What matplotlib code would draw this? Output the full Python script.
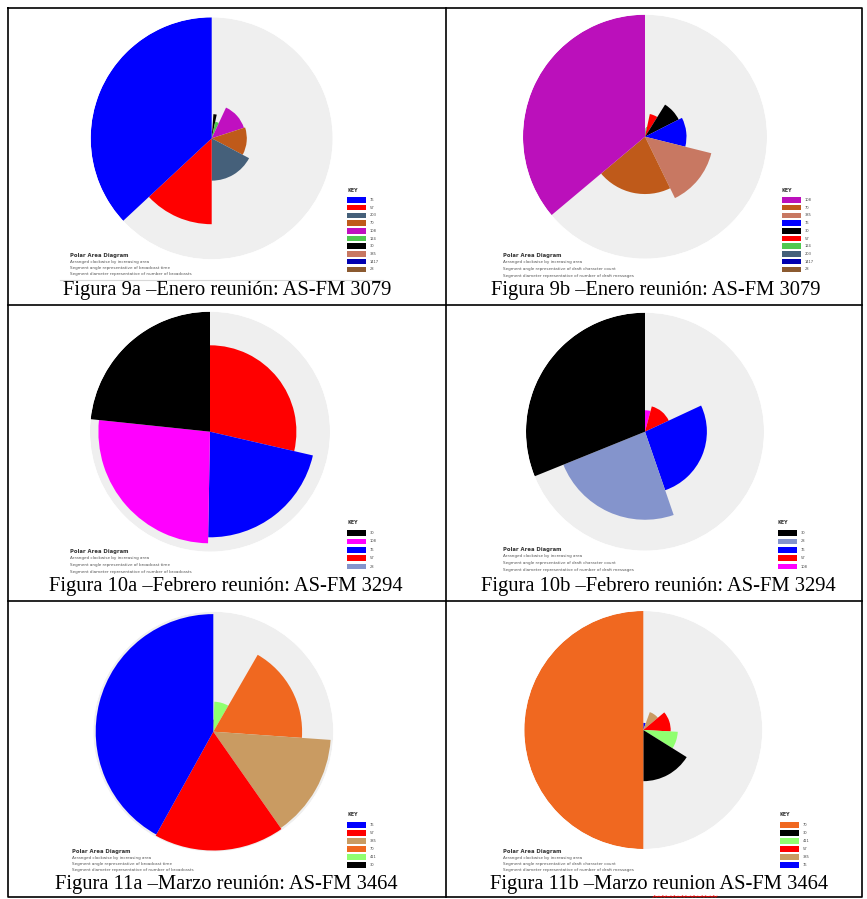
import numpy as np
import matplotlib
matplotlib.use("Agg")
import matplotlib.pyplot as plt
from matplotlib.patches import Rectangle

# ---------------- DATA (legend order, largest first) ----------------
fig9a_colors = ["#0000FF", "#FF0000", "#45607A", "#BF5A1A", "#C010C0",
                "#50C850", "#000000", "#C87862", "#0000B0", "#8B5A30"]
fig9a_labels = ["76", "57", "203", "70", "108", "124", "30", "385", "1417", "28"]
fig9a_angles = [133, 47, 62, 46, 47, 13, 8, 1.5, 1.5, 1]
fig9a_radii = [1.0, 0.71, 0.35, 0.29, 0.28, 0.14, 0.20, 0.08, 0.06, 0.05]

fig9b_colors = ["#BB10BB", "#BF5A1A", "#C87862", "#0000FF", "#000000",
                "#FF0000", "#50C850", "#45607A", "#0000B0", "#8B5A30"]
fig9b_labels = ["108", "70", "385", "76", "30", "57", "124", "203", "1417", "28"]
fig9b_angles = [130, 76, 50, 41, 31, 20, 5, 3, 2.5, 1.5]
fig9b_radii = [1.0, 0.47, 0.56, 0.34, 0.31, 0.19, 0.08, 0.07, 0.05, 0.04]

fig10a_colors = ["#000000", "#FF00FF", "#0000FF", "#FF0000", "#8494CC"]
fig10a_labels = ["30", "108", "76", "57", "28"]
fig10a_angles = [84, 95, 78, 103, 0]
fig10a_radii = [1.0, 0.93, 0.88, 0.72, 0.0]

fig10b_colors = ["#000000", "#8494CC", "#0000FF", "#FF0000", "#FF00FF"]
fig10b_labels = ["30", "28", "76", "57", "108"]
fig10b_angles = [112, 87, 96, 50, 15]
fig10b_radii = [1.0, 0.74, 0.52, 0.22, 0.18]

fig11a_colors = ["#0000FF", "#FF0000", "#C99B62", "#F06820", "#90FF70", "#000000"]
fig11a_labels = ["76", "57", "385", "70", "411", "30"]
fig11a_angles = [151, 64, 51, 64, 28, 2]
fig11a_radii = [0.98, 0.99, 0.98, 0.74, 0.25, 0.10]

fig11b_colors = ["#F06820", "#000000", "#90FF70", "#FF0000", "#C99B62", "#0000FF"]
fig11b_labels = ["70", "30", "411", "57", "385", "76"]
fig11b_angles = [180, 58, 29, 43, 30, 20]
fig11b_radii = [1.0, 0.43, 0.29, 0.23, 0.16, 0.06]

captions = ["Figura 9a \u2013Enero reunión: AS-FM 3079",
            "Figura 9b \u2013Enero reunión: AS-FM 3079",
            "Figura 10a \u2013Febrero reunión: AS-FM 3294",
            "Figura 10b \u2013Febrero reunión: AS-FM 3294",
            "Figura 11a \u2013Marzo reunión: AS-FM 3464",
            "Figura 11b \u2013Marzo reunion AS-FM 3464"]

desc_a = ["Polar Area Diagram",
          "Arranged clockwise by increasing area",
          "Segment angle representative of broadcast time",
          "Segment diameter representative of number of broadcasts"]
desc_b = ["Polar Area Diagram",
          "Arranged clockwise by increasing area",
          "Segment angle representative of draft character count",
          "Segment diameter representative of number of draft messages"]

# ---------------- LAYOUT ----------------
W, H = 867, 899
BG = "#EFEFEF"

panels = [
    dict(c=fig9a_colors, l=fig9a_labels, a=fig9a_angles, r=fig9a_radii, desc=desc_a,
         cx=211.7, cy=138.3, R=121, kx=347, ky=190, k0=200, ks=7.7, dx=70, dy=255, cap=(227, 291)),
    dict(c=fig9b_colors, l=fig9b_labels, a=fig9b_angles, r=fig9b_radii, desc=desc_b,
         cx=645, cy=136.7, R=122, kx=782, ky=190, k0=200, ks=7.7, dx=503, dy=256, cap=(656, 291)),
    dict(c=fig10a_colors, l=fig10a_labels, a=fig10a_angles, r=fig10a_radii, desc=desc_a,
         cx=210, cy=431.7, R=120, kx=347, ky=523, k0=533, ks=8.4, dx=70, dy=552, cap=(226, 587)),
    dict(c=fig10b_colors, l=fig10b_labels, a=fig10b_angles, r=fig10b_radii, desc=desc_b,
         cx=645, cy=431.7, R=119, kx=778, ky=523, k0=533, ks=8.4, dx=503, dy=550, cap=(658, 587)),
    dict(c=fig11a_colors, l=fig11a_labels, a=fig11a_angles, r=fig11a_radii, desc=desc_a,
         cx=213.3, cy=731.7, R=120, kx=347, ky=815, k0=825, ks=8.0, dx=72, dy=851, cap=(226, 884)),
    dict(c=fig11b_colors, l=fig11b_labels, a=fig11b_angles, r=fig11b_radii, desc=desc_b,
         cx=643.3, cy=730, R=119, kx=780, ky=815, k0=825, ks=8.0, dx=503, dy=851, cap=(659, 884)),
]

fig = plt.figure(figsize=(W / 100, H / 100), dpi=100)
fig.patch.set_facecolor("white")

ov = fig.add_axes([0, 0, 1, 1])
ov.set_xlim(0, W)
ov.set_ylim(H, 0)
ov.set_axis_off()

# table lines
lw = 1.2
ov.plot([8, 862, 862, 8, 8], [8, 8, 897, 897, 8], color="black", lw=lw)
ov.plot([446, 446], [8, 897], color="black", lw=lw)
ov.plot([8, 862], [305, 305], color="black", lw=lw)
ov.plot([8, 862], [601, 601], color="black", lw=lw)
ov.plot([60, 383], [280, 280], color="#D8D8D8", lw=0.8)

for i, p in enumerate(panels):
    # caption
    ov.text(p["cap"][0], p["cap"][1], captions[i], ha="center", va="center",
            fontsize=14.8, family="Liberation Serif", color="black")
    # description block
    ov.text(p["dx"], p["dy"], p["desc"][0], fontsize=3.8, fontweight="bold",
            ha="left", va="center", color="#333333")
    for j, line in enumerate(p["desc"][1:]):
        ov.text(p["dx"], p["dy"] + 6.5 * (j + 1), line, fontsize=3.0,
                ha="left", va="center", color="#555555")
    # legend
    ov.text(p["kx"], p["ky"], "KEY", fontsize=3.5, fontweight="bold",
            ha="left", va="center", color="#333333")
    for j, (col, lab) in enumerate(zip(p["c"], p["l"])):
        y = p["k0"] + j * p["ks"]
        ov.add_patch(Rectangle((p["kx"], y - 2.8), 19, 5.6, facecolor=col, edgecolor="none"))
        ov.text(p["kx"] + 23, y, lab, fontsize=2.6, ha="left", va="center", color="#444444")

    # polar area diagram
    cx, cy, R = p["cx"], p["cy"], p["R"]
    ax = fig.add_axes([(cx - R) / W, 1 - (cy + R) / H, 2 * R / W, 2 * R / H],
                      projection="polar")
    ax.set_theta_zero_location("N")
    ax.set_theta_direction(-1)
    ax.set_ylim(0, 1)
    ax.set_axis_off()
    ax.bar(0, 1.0, width=2 * np.pi, align="edge", color=BG, linewidth=0)
    ang = np.deg2rad(np.array(p["a"][::-1], dtype=float))
    rad = np.array(p["r"][::-1], dtype=float)
    cols = p["c"][::-1]
    left = np.concatenate([[0], np.cumsum(ang)[:-1]])
    ax.bar(left, rad, width=ang, align="edge", color=cols, linewidth=0)

# spell-check squiggle under "reunion"
xs = np.linspace(653, 717, 40)
ov.plot(xs, 896.5 + 0.8 * np.sin(xs * 1.6), color="red", lw=0.6)

fig.savefig("out.png", dpi=100, facecolor="white")
